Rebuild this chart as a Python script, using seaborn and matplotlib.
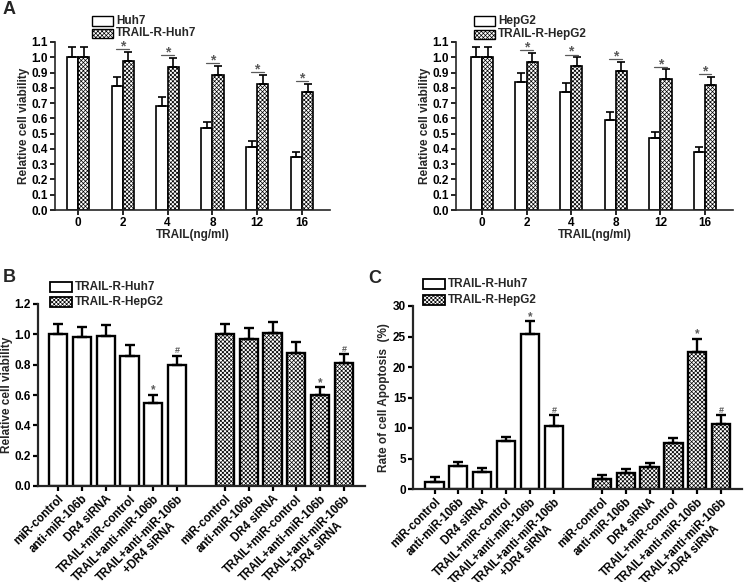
import numpy as np
import pandas as pd
import matplotlib
matplotlib.use("Agg")
import matplotlib.pyplot as plt
import seaborn as sns
from matplotlib.patches import Rectangle
from matplotlib.container import BarContainer

# ---------------- data ----------------
doses = ["0", "2", "4", "8", "12", "16"]
huh7 = [1.00, 0.81, 0.68, 0.535, 0.415, 0.35]
huh7_sd = [0.07, 0.06, 0.06, 0.04, 0.035, 0.03]
tr_huh7 = [1.00, 0.975, 0.935, 0.885, 0.825, 0.775]
tr_huh7_sd = [0.07, 0.06, 0.06, 0.06, 0.06, 0.05]
hepg2 = [1.00, 0.84, 0.77, 0.59, 0.47, 0.38]
hepg2_sd = [0.07, 0.06, 0.06, 0.05, 0.04, 0.03]
tr_hepg2 = [1.00, 0.97, 0.94, 0.91, 0.86, 0.82]
tr_hepg2_sd = [0.07, 0.06, 0.06, 0.06, 0.06, 0.05]

conditions = ["miR-control", "anti-miR-106b", "DR4 siRNA", "TRAIL+miR-control",
              "TRAIL+anti-miR-106b", "TRAIL+anti-miR-106b\n+DR4 siRNA"]
b_huh7 = [1.00, 0.98, 0.99, 0.86, 0.55, 0.80]
b_huh7_sd = [0.07, 0.07, 0.07, 0.07, 0.05, 0.06]
b_hepg2 = [1.00, 0.97, 1.01, 0.88, 0.60, 0.81]
b_hepg2_sd = [0.07, 0.07, 0.07, 0.07, 0.05, 0.06]
c_huh7 = [1.2, 3.8, 2.8, 7.8, 25.4, 10.4]
c_huh7_sd = [0.7, 0.6, 0.6, 0.8, 2.1, 1.7]
c_hepg2 = [1.6, 2.7, 3.6, 7.6, 22.5, 10.6]
c_hepg2_sd = [0.7, 0.6, 0.6, 0.8, 2.1, 1.5]
marks = ["", "", "", "", "*", "#"]

# ---------------- style ----------------
sns.set_theme(style="ticks")
plt.rcParams["font.family"] = ["Liberation Sans", "DejaVu Sans"]
plt.rcParams["font.weight"] = "bold"
plt.rcParams["axes.labelweight"] = "bold"
plt.rcParams["hatch.linewidth"] = 0.5
plt.rcParams["hatch.color"] = "black"
HATCH = "xxxxxxxx"
MARK_COLOR = "#5a5a5a"

W, H = 745, 582
fig = plt.figure(figsize=(W / 100, H / 100), dpi=100)


def ax_px(x0, y_top, x1, y_bot):
    return fig.add_axes([x0 / W, 1 - y_bot / H, (x1 - x0) / W, (y_bot - y_top) / H])


def legend_px(x, y1, y2, labels, bw=21, bh=9, lw=1.0):
    for y, lab, hat in zip([y1, y2], labels, [None, HATCH]):
        r = Rectangle((x / W, 1 - (y + bh / 2) / H), bw / W, bh / H, transform=fig.transFigure,
                      facecolor="white", edgecolor="black", lw=lw, hatch=hat)
        fig.add_artist(r)
        fig.text((x + bw + 3) / W, 1 - y / H, lab, ha="left", va="center", fontsize=8.5,
                 fontweight="bold")


def style_axes(ax, lw):
    sns.despine(ax=ax)
    for s in ["left", "bottom"]:
        ax.spines[s].set_linewidth(lw)
    ax.tick_params(width=lw, length=3.5, colors="black", pad=1.5)


def bar_containers(ax):
    return [c for c in list(ax.containers) if isinstance(c, BarContainer)]


# ---------------- Panel A ----------------
def panel_a(ax, s1, s1sd, s2, s2sd, names, xlim):
    df = pd.DataFrame({"dose": doses * 2, "value": s1 + s2,
                       "cell": [names[0]] * 6 + [names[1]] * 6})
    sns.barplot(data=df, x="dose", y="value", hue="cell", order=doses, hue_order=names,
                errorbar=None, width=0.5, gap=0, palette=["white", "white"], saturation=1,
                edgecolor="black", linewidth=1.2, legend=False, ax=ax)
    sds = [s1sd, s2sd]
    tops = {}
    for ci, cont in enumerate(bar_containers(ax)):
        xs, hs, es = [], [], []
        for p in cont.patches:
            if ci == 1:
                p.set_hatch(HATCH)
            xc = p.get_x() + p.get_width() / 2
            i = int(round(xc))
            xs.append(xc); hs.append(p.get_height()); es.append(sds[ci][i])
            tops[(ci, i)] = (xc, p.get_height() + sds[ci][i])
        ax.errorbar(xs, hs, yerr=[np.zeros(len(es)), es], fmt="none", ecolor="black",
                    elinewidth=1.2, capsize=3.2, capthick=1.2, zorder=1)
    for i in range(1, 6):
        x1 = tops[(0, i)][0]
        x2, ytop = tops[(1, i)]
        y = ytop + 0.018
        ax.plot([x1 - 0.02, x2 + 0.02], [y, y], color=MARK_COLOR, lw=0.9)
        ax.annotate("*", xy=((x1 + x2) / 2, y), xytext=(0, -1.0), textcoords="offset points",
                    ha="center", va="baseline", color=MARK_COLOR, fontsize=10,
                    fontweight="bold")
    ax.set_ylim(0, 1.1)
    ax.set_xlim(*xlim)
    ax.set_yticks(np.arange(0, 1.11, 0.1))
    ax.set_yticklabels([f"{v:.1f}" for v in np.arange(0, 1.11, 0.1)], fontsize=8.5)
    ax.set_xticks(range(6))
    ax.set_xticklabels(doses, fontsize=8.5)
    ax.set_xlabel("TRAIL(ng/ml)", fontsize=8.5, labelpad=0)
    ax.set_ylabel("Relative cell viability", fontsize=8.5, labelpad=1)
    style_axes(ax, 1.2)


axA1 = ax_px(55, 42, 330, 210)
panel_a(axA1, huh7, huh7_sd, tr_huh7, tr_huh7_sd, ["Huh7", "TRAIL-R-Huh7"], (-0.513, 5.625))
axA2 = ax_px(456, 42, 733, 210)
panel_a(axA2, hepg2, hepg2_sd, tr_hepg2, tr_hepg2_sd, ["HepG2", "TRAIL-R-HepG2"], (-0.583, 5.628))


# ---------------- Panels B and C ----------------
def panel_bc(ax, s1, s1sd, s2, s2sd, ylim, yticks, fmt, ylabel, xlim, ylabelpad):
    keys1 = ["Huh7|" + c for c in conditions]
    keys2 = ["HepG2|" + c for c in conditions]
    order = keys1 + ["spacer"] + keys2
    df = pd.DataFrame({"key": keys1 + keys2, "value": s1 + s2,
                       "cell": ["TRAIL-R-Huh7"] * 6 + ["TRAIL-R-HepG2"] * 6})
    sd_map = dict(zip(keys1 + keys2, s1sd + s2sd))
    mark_map = dict(zip(keys1 + keys2, marks + marks))
    sns.barplot(data=df, x="key", y="value", hue="cell", order=order,
                hue_order=["TRAIL-R-Huh7", "TRAIL-R-HepG2"], dodge=False, errorbar=None,
                width=0.76, palette=["white", "white"], saturation=1, edgecolor="black",
                linewidth=1.7, legend=False, ax=ax)
    for ci, cont in enumerate(bar_containers(ax)):
        xs, hs, es = [], [], []
        for p in cont.patches:
            if ci == 1:
                p.set_hatch(HATCH)
            xc = p.get_x() + p.get_width() / 2
            k = order[int(round(xc))]
            xs.append(xc); hs.append(p.get_height()); es.append(sd_map[k])
            m = mark_map[k]
            if m:
                ax.annotate(m, xy=(xc, p.get_height() + sd_map[k]),
                            xytext=(0, 1.0 if m == "*" else 1.8), textcoords="offset points",
                            ha="center", va="baseline", color=MARK_COLOR,
                            fontsize=8.5 if m == "*" else 6.5, fontweight="bold")
        ax.errorbar(xs, hs, yerr=[np.zeros(len(es)), es], fmt="none", ecolor="black",
                    elinewidth=1.7, capsize=3.5, capthick=1.7, zorder=1)
    ax.set_ylim(*ylim)
    ax.set_xlim(*xlim)
    ax.set_yticks(yticks)
    ax.set_yticklabels([fmt.format(v) for v in yticks], fontsize=8.5)
    pos = [order.index(k) for k in keys1 + keys2]
    ax.set_xticks(pos)
    ax.set_xticklabels(conditions + conditions, rotation=45, ha="right", va="top",
                       rotation_mode="anchor", fontsize=8.3, multialignment="center")
    ax.set_xlabel("")
    ax.set_ylabel(ylabel, fontsize=8.5, labelpad=ylabelpad)
    style_axes(ax, 1.6)


axB = ax_px(38, 304, 365, 486)
panel_bc(axB, b_huh7, b_huh7_sd, b_hepg2, b_hepg2_sd, (0, 1.2), np.arange(0, 1.21, 0.2),
         "{:.1f}", "Relative cell viability", (-0.84, 12.88), 1)
axC = ax_px(413, 306, 742, 489)
panel_bc(axC, c_huh7, c_huh7_sd, c_hepg2, c_hepg2_sd, (0, 30), np.arange(0, 31, 5),
         "{:.0f}", "Rate of cell Apoptosis  (%)", (-0.9, 12.87), 2)

# ---------------- legends & panel letters ----------------
legend_px(92, 21, 33, ["Huh7", "TRAIL-R-Huh7"])
legend_px(474, 21, 34, ["HepG2", "TRAIL-R-HepG2"])
legend_px(50, 287, 302, ["TRAIL-R-Huh7", "TRAIL-R-HepG2"], bw=22, bh=10, lw=1.3)
legend_px(423, 284, 300, ["TRAIL-R-Huh7", "TRAIL-R-HepG2"], bw=22, bh=10, lw=1.3)

for lab, x, y in [("A", 3, 10), ("B", 3, 277), ("C", 368, 278)]:
    fig.text(x / W, 1 - y / H, lab, ha="left", va="center", fontsize=13, fontweight="bold")

fig.savefig("out.png", dpi=100)
